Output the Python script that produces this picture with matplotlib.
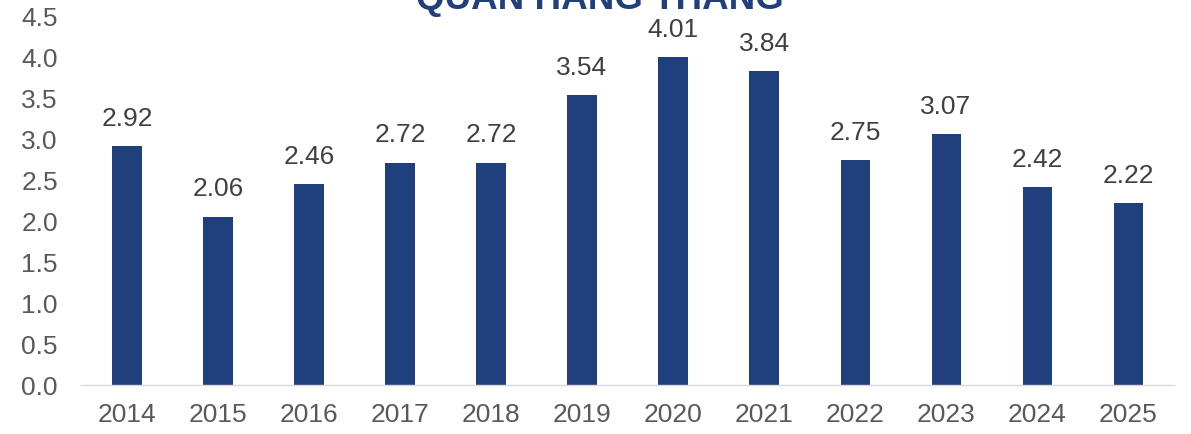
import matplotlib.pyplot as plt

# data
years = ['2014', '2015', '2016', '2017', '2018', '2019',
         '2020', '2021', '2022', '2023', '2024', '2025']
values = [2.92, 2.06, 2.46, 2.72, 2.72, 3.54, 4.01, 3.84, 2.75, 3.07, 2.42, 2.22]
title = 'QUÂN HÀNG THÁNG'

BAR_COLOR = '#1f3f7d'
TICK_COLOR = '#595959'
LABEL_COLOR = '#404040'

plt.rcParams['font.family'] = ['Liberation Sans', 'DejaVu Sans']

fig = plt.figure(figsize=(11.91, 4.34), dpi=100)
ax = fig.add_axes([0.0684, 0.1129, 0.917, 0.848])

x = range(len(years))
ax.bar(x, values, width=0.32, color=BAR_COLOR)

for xi, v in zip(x, values):
    ax.annotate(f'{v:.2f}', (xi, v), xytext=(0, 11), textcoords='offset points',
                ha='center', va='bottom', fontsize=19, color=LABEL_COLOR)

ax.set_xlim(-0.5, len(years) - 0.5)
ax.set_ylim(0, 4.5)
ax.set_yticks([i * 0.5 for i in range(10)])
ax.set_yticklabels([f'{i * 0.5:.1f}' for i in range(10)])
ax.set_xticks(list(x))
ax.set_xticklabels(years)
ax.tick_params(axis='both', length=0, labelsize=19, labelcolor=TICK_COLOR)
ax.tick_params(axis='x', pad=13)
ax.tick_params(axis='y', pad=17)

for side in ('top', 'right', 'left'):
    ax.spines[side].set_visible(False)
ax.spines['bottom'].set_color('#d9d9d9')
ax.spines['bottom'].set_linewidth(1.0)

fig.text(0.504, 1 - 9 / 434, title, ha='center', va='baseline',
         fontsize=26.5, fontweight='bold', color=BAR_COLOR)

fig.savefig('out.png', dpi=100)
